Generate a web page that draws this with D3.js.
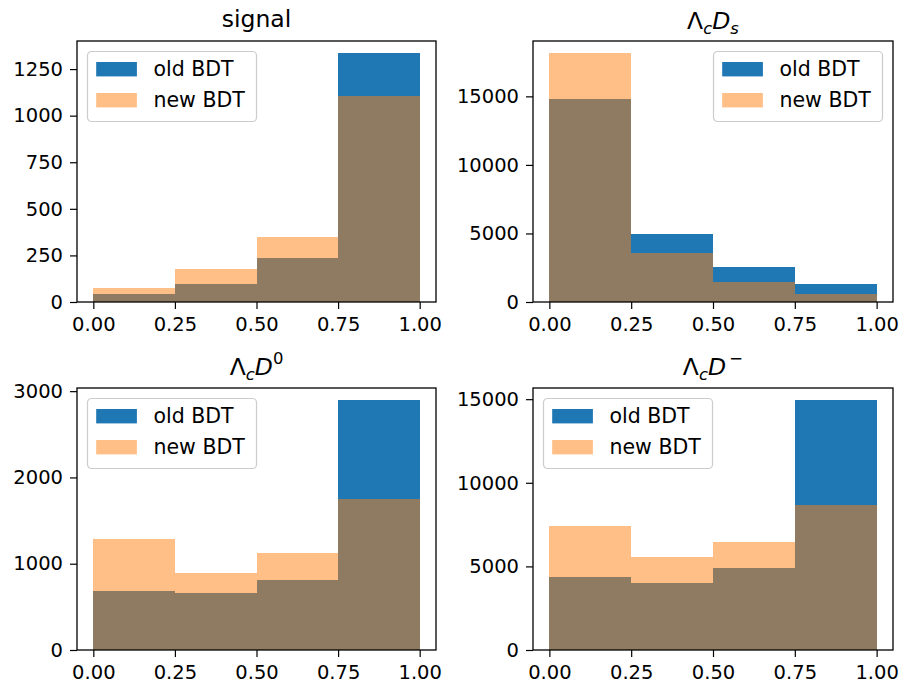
<!DOCTYPE html>
<html><head><meta charset="utf-8">
<script src="https://cdn.jsdelivr.net/npm/d3@7"></script>
<style>body{margin:0;background:#fff} svg{display:block} text{font-family:"DejaVu Sans",sans-serif;fill:#000}</style>
</head><body><svg id="chart" width="899" height="688"></svg>
<script>
// ---- data ----
const binEdges = [0, 0.25, 0.5, 0.75, 1.0];
const xTicks = [0, 0.25, 0.5, 0.75, 1.0];
const seriesNames = ["old BDT", "new BDT"];
const signalOld = [41, 99, 236, 1334];
const signalNew = [75, 179, 348, 1107];
const lcdsOld = [14833, 4980, 2549, 1311];
const lcdsNew = [18131, 3546, 1457, 583];
const lcd0Old = [686, 656, 810, 2892];
const lcd0New = [1284, 895, 1124, 1752];
const lcdmOld = [4362, 4002, 4902, 14922];
const lcdmNew = [7440, 5544, 6444, 8700];
const signalTicks = [0, 250, 500, 750, 1000, 1250];
const lcdsTicks = [0, 5000, 10000, 15000];
const lcd0Ticks = [0, 1000, 2000, 3000];
const lcdmTicks = [0, 5000, 10000, 15000];

const colors = ["#1f77b4", "#ff7f0e"];
const opac = [1, 0.5];
const tickFs = 19.5, legendFs = 20.5, titleFs = 23.5;

const panels = [
  {title: [{t: "signal"}], old: signalOld, nw: signalNew, ticks: signalTicks, legend: "left",
   x0: 77, x1: 436, y0: 41, y1: 302, titleY: 27},
  {title: [{t: "Λ"}, {t: "c", it: 1, sub: 1}, {t: "D", it: 1}, {t: "s", it: 1, sub: 1}], old: lcdsOld, nw: lcdsNew, ticks: lcdsTicks, legend: "right",
   x0: 533, x1: 893, y0: 41, y1: 302, titleY: 29},
  {title: [{t: "Λ"}, {t: "c", it: 1, sub: 1}, {t: "D", it: 1}, {t: "0", sup: 1}], old: lcd0Old, nw: lcd0New, ticks: lcd0Ticks, legend: "left",
   x0: 77, x1: 436, y0: 388, y1: 650, titleY: 375},
  {title: [{t: "Λ"}, {t: "c", it: 1, sub: 1}, {t: "D", it: 1}, {t: "\u2009−", sup: 1}], old: lcdmOld, nw: lcdmNew, ticks: lcdmTicks, legend: "left",
   x0: 533, x1: 893, y0: 388, y1: 650, titleY: 375}
];

const svg = d3.select("#chart");

panels.forEach(p => {
  const x = d3.scaleLinear().domain([-0.05, 1.05]).range([p.x0, p.x1]);
  const ymax = d3.max(p.old.concat(p.nw)) * 1.05;
  const y = d3.scaleLinear().domain([0, ymax]).range([p.y1, p.y0]);
  const g = svg.append("g");

  [p.old, p.nw].forEach((vals, si) => {
    g.append("g").attr("shape-rendering", "crispEdges")
      .selectAll("rect").data(vals).join("rect")
      .attr("x", (d, i) => x(binEdges[i]))
      .attr("width", (d, i) => x(binEdges[i + 1]) - x(binEdges[i]))
      .attr("y", d => y(d))
      .attr("height", d => y(0) - y(d))
      .attr("fill", colors[si])
      .attr("fill-opacity", opac[si]);
  });

  // axes
  const ax = g.append("g").attr("transform", `translate(0,${p.y1})`)
    .call(d3.axisBottom(x).tickValues(xTicks).tickFormat(d3.format(".2f")).tickSize(7).tickPadding(8));
  const ay = g.append("g").attr("transform", `translate(${p.x0},0)`)
    .call(d3.axisLeft(y).tickValues(p.ticks).tickFormat(d3.format("d")).tickSize(7).tickPadding(7));
  [ax, ay].forEach(a => {
    a.select(".domain").remove();
    a.selectAll(".tick line").attr("stroke", "#000").attr("stroke-width", 1.2);
    a.selectAll(".tick text").attr("font-size", tickFs).attr("font-family", "DejaVu Sans").attr("fill", "#000");
  });

  g.append("rect").attr("x", p.x0).attr("y", p.y0)
    .attr("width", p.x1 - p.x0).attr("height", p.y1 - p.y0)
    .attr("fill", "none").attr("stroke", "#000").attr("stroke-width", 1.3);

  // title
  const t = g.append("text").attr("x", (p.x0 + p.x1) / 2).attr("y", p.titleY)
    .attr("text-anchor", "middle").attr("font-size", titleFs);
  let acc = 0;
  p.title.forEach(part => {
    const ts = t.append("tspan").text(part.t);
    if (part.it) ts.attr("font-style", "italic");
    const target = part.sub ? titleFs * 0.22 : part.sup ? -titleFs * 0.45 : 0;
    if (part.sub || part.sup) ts.attr("font-size", titleFs * 0.7);
    ts.attr("dy", target - acc);
    acc = target;
  });

  // legend
  const lw = 169, lh = 70;
  const lx = p.legend === "left" ? p.x0 + 10.5 : p.x1 - 10.5 - lw;
  const ly = p.y0 + 10.5;
  const lg = g.append("g").attr("transform", `translate(${lx},${ly})`);
  lg.append("rect").attr("width", lw).attr("height", lh).attr("rx", 4)
    .attr("fill", "#fff").attr("fill-opacity", 0.8).attr("stroke", "#cccccc").attr("stroke-width", 1.2);
  seriesNames.forEach((name, i) => {
    const cy = 17.7 + i * 31;
    lg.append("rect").attr("x", 8.7).attr("y", cy - 7.2).attr("width", 40.7).attr("height", 14.4)
      .attr("fill", colors[i]).attr("fill-opacity", opac[i]);
    lg.append("text").attr("x", 66).attr("y", cy + 7).attr("font-size", legendFs).text(name);
  });
});
</script></body></html>
